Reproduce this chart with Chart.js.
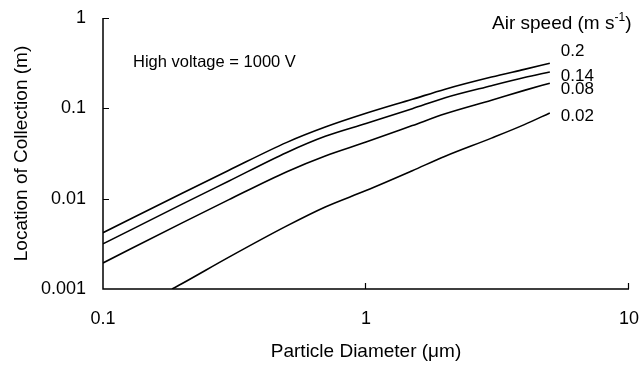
<!DOCTYPE html>
<html>
<head>
<meta charset="utf-8">
<script src="https://cdn.jsdelivr.net/npm/chart.js@4.4.1/dist/chart.umd.min.js"></script>
<style>
  html, body { margin: 0; padding: 0; background: #fff; }
  #wrap { width: 640px; height: 366px; }
</style>
</head>
<body>
<div id="wrap"><canvas id="chart" width="640" height="366"></canvas></div>
<script>
// du lieu doc tu hinh
const airSpeeds = ['0.2', '0.14', '0.08', '0.02'];
const diameters = [0.1, 0.2, 0.3, 0.5, 0.7, 1, 1.5, 2, 3, 4, 5];
const loc02 = [0.0042, 0.0115, 0.0205, 0.042, 0.062, 0.088, 0.126, 0.163, 0.222, 0.27, 0.315];
const loc014 = [0.00316, 0.0087, 0.0156, 0.0325, 0.049, 0.068, 0.099, 0.131, 0.178, 0.219, 0.253];
const loc008 = [0.00194, 0.0054, 0.0097, 0.0199, 0.0297, 0.0423, 0.0644, 0.087, 0.123, 0.158, 0.19];
const diameters002 = [0.183, 0.2, 0.3, 0.5, 0.7, 1, 1.5, 2, 3, 4, 5];
const loc002 = [0.001, 0.00115, 0.00224, 0.005, 0.0081, 0.0123, 0.0204, 0.0295, 0.0468, 0.066, 0.089];
const xTicks = [0.1, 1, 10];
const yTicks = [0.001, 0.01, 0.1, 1];

function toPoints(xs, ys) {
    return xs.map((x, i) => ({ x: x, y: ys[i] }));
}

const seriesData = [
    toPoints(diameters, loc02),
    toPoints(diameters, loc014),
    toPoints(diameters, loc008),
    toPoints(diameters002, loc002)
];

const FONT = 'Arial, "Liberation Sans", sans-serif';
const labelOffsets = [-12, 4, 6, 3];

// ve truc, vach chia va chu thich
const decorPlugin = {
    id: 'decor',
    afterDraw(chart) {
        const ctx = chart.ctx;
        const xs = chart.scales.x;
        const ys = chart.scales.y;
        const a = chart.chartArea;
        ctx.save();
        ctx.strokeStyle = '#000';
        ctx.lineWidth = 1.5;
        ctx.beginPath();
        ctx.moveTo(a.left, a.top);
        ctx.lineTo(a.left, a.bottom);
        ctx.lineTo(a.right, a.bottom);
        ctx.stroke();

        ctx.lineWidth = 1.2;
        ctx.beginPath();
        yTicks.forEach(v => {
            if (v === yTicks[0]) return;
            const py = Math.round(ys.getPixelForValue(v)) + 0.5;
            ctx.moveTo(a.left, py);
            ctx.lineTo(a.left + 6, py);
        });
        xTicks.forEach(v => {
            if (v === xTicks[0]) return;
            const px = Math.round(xs.getPixelForValue(v)) - 0.5;
            ctx.moveTo(px, a.bottom);
            ctx.lineTo(px, a.bottom - 6);
        });
        ctx.stroke();

        ctx.fillStyle = '#000';
        ctx.textBaseline = 'middle';
        ctx.textAlign = 'left';
        ctx.font = '16.5px ' + FONT;
        ctx.fillText('High voltage = 1000 V', a.left + 30, a.top + 44);

        // tieu de chu giai
        ctx.font = '19px ' + FONT;
        let tx = 492;
        const ty = a.top + 6;
        const t1 = 'Air speed (m s';
        ctx.fillText(t1, tx, ty);
        tx += ctx.measureText(t1).width;
        ctx.font = '12px ' + FONT;
        ctx.fillText('-1', tx, ty - 6);
        tx += ctx.measureText('-1').width;
        ctx.font = '19px ' + FONT;
        ctx.fillText(')', tx, ty);

        // nhan cua tung duong
        ctx.font = '17px ' + FONT;
        seriesData.forEach((pts, i) => {
            const last = pts[pts.length - 1];
            const px = xs.getPixelForValue(last.x) + 11;
            const py = ys.getPixelForValue(last.y) + labelOffsets[i];
            ctx.fillText(airSpeeds[i], px, py);
        });
        ctx.restore();
    }
};

const ctx = document.getElementById('chart').getContext('2d');
const chart = new Chart(ctx, {
    type: 'scatter',
    data: {
        datasets: seriesData.map((pts, i) => ({
            label: airSpeeds[i],
            data: pts,
            showLine: true,
            borderColor: '#000',
            borderWidth: 1.6,
            pointRadius: 0,
            cubicInterpolationMode: 'monotone',
            fill: false
        }))
    },
    options: {
        responsive: false,
        animation: false,
        layout: { padding: { top: 18, right: 11, left: 0, bottom: 0 } },
        plugins: {
            legend: { display: false },
            tooltip: { enabled: false }
        },
        scales: {
            x: {
                type: 'logarithmic',
                min: 0.1,
                max: 10,
                afterBuildTicks: s => { s.ticks = xTicks.map(v => ({ value: v })); },
                afterFit: s => { s.height = 77; s.paddingLeft = 0; s.paddingRight = 0; },
                grid: { display: false, drawTicks: false },
                border: { display: false },
                ticks: {
                    color: '#000',
                    font: { family: FONT, size: 18 },
                    padding: 19,
                    maxRotation: 0,
                    callback: v => String(v)
                },
                title: {
                    display: true,
                    text: 'Particle Diameter (μm)',
                    color: '#000',
                    font: { family: FONT, size: 19 },
                    padding: { top: 0, bottom: 2.6 }
                }
            },
            y: {
                type: 'logarithmic',
                min: 0.001,
                max: 1,
                afterBuildTicks: s => { s.ticks = yTicks.map(v => ({ value: v })); },
                afterFit: s => { s.width = 103; s.paddingTop = 0; s.paddingBottom = 0; },
                grid: { display: false, drawTicks: false },
                border: { display: false },
                ticks: {
                    color: '#000',
                    font: { family: FONT, size: 18 },
                    padding: 17,
                    callback: v => String(v)
                },
                title: {
                    display: true,
                    text: 'Location of Collection (m)',
                    color: '#000',
                    font: { family: FONT, size: 19 },
                    padding: { top: 10.5, bottom: 0 }
                }
            }
        }
    },
    plugins: [decorPlugin]
});
</script>
</body>
</html>
